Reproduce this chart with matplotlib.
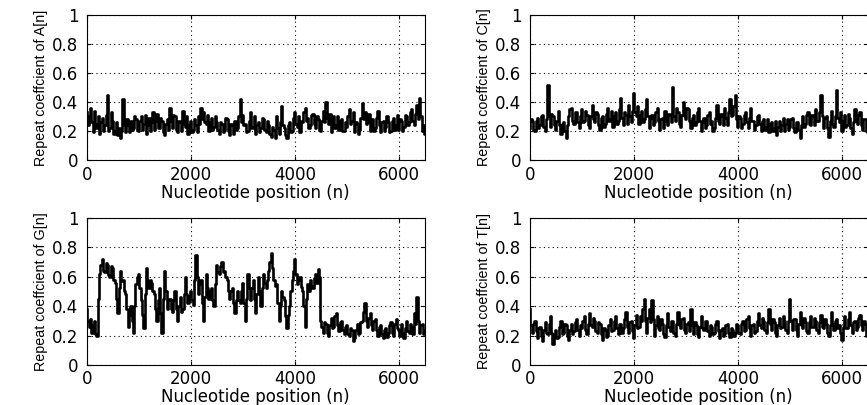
import numpy as np
import matplotlib
matplotlib.use("Agg")
import matplotlib.pyplot as plt
from matplotlib import font_manager

# repeat coefficients sampled every 25 nt (0..6500), one row = 500 nt
positions = np.arange(0, 6501, 25)

coef_a = [0.33, 0.24, 0.30, 0.36, 0.26, 0.19, 0.34, 0.25, 0.22, 0.30, 0.18, 0.26, 0.29, 0.20, 0.24, 0.31, 0.45, 0.20, 0.22, 0.33,
          0.27, 0.18, 0.20, 0.26, 0.17, 0.22, 0.15, 0.20, 0.42, 0.24, 0.19, 0.28, 0.24, 0.19, 0.27, 0.21, 0.22, 0.30, 0.28, 0.21,
          0.20, 0.27, 0.30, 0.21, 0.25, 0.31, 0.18, 0.24, 0.29, 0.20, 0.26, 0.33, 0.21, 0.27, 0.32, 0.22, 0.22, 0.29, 0.27, 0.19,
          0.17, 0.25, 0.28, 0.21, 0.36, 0.27, 0.22, 0.31, 0.30, 0.21, 0.19, 0.27, 0.26, 0.20, 0.34, 0.25, 0.23, 0.30, 0.18, 0.24,
          0.27, 0.19, 0.21, 0.28, 0.24, 0.19, 0.30, 0.25, 0.36, 0.28, 0.33, 0.26, 0.25, 0.31, 0.20, 0.26, 0.29, 0.21, 0.23, 0.30,
          0.26, 0.21, 0.18, 0.26, 0.25, 0.19, 0.21, 0.29, 0.28, 0.20, 0.17, 0.25, 0.24, 0.18, 0.27, 0.21, 0.22, 0.30, 0.42, 0.26,
          0.31, 0.24, 0.25, 0.19, 0.20, 0.27, 0.33, 0.22, 0.23, 0.30, 0.18, 0.24, 0.26, 0.19, 0.22, 0.29, 0.28, 0.21, 0.19, 0.27,
          0.24, 0.18, 0.16, 0.23, 0.21, 0.15, 0.30, 0.22, 0.18, 0.26, 0.37, 0.24, 0.22, 0.17, 0.15, 0.24, 0.26, 0.19, 0.20, 0.29,
          0.33, 0.25, 0.23, 0.30, 0.19, 0.27, 0.26, 0.33, 0.36, 0.27, 0.29, 0.22, 0.24, 0.31, 0.32, 0.25, 0.22, 0.30, 0.28, 0.21,
          0.20, 0.27, 0.34, 0.26, 0.40, 0.29, 0.25, 0.32, 0.19, 0.26, 0.30, 0.22, 0.24, 0.30, 0.21, 0.27, 0.28, 0.20, 0.20, 0.26,
          0.23, 0.30, 0.35, 0.25, 0.27, 0.33, 0.19, 0.26, 0.25, 0.18, 0.21, 0.29, 0.39, 0.28, 0.33, 0.25, 0.26, 0.32, 0.20, 0.27,
          0.28, 0.20, 0.22, 0.29, 0.34, 0.24, 0.19, 0.26, 0.27, 0.20, 0.23, 0.30, 0.26, 0.19, 0.20, 0.27, 0.29, 0.21, 0.24, 0.31,
          0.21, 0.28, 0.27, 0.20, 0.23, 0.31, 0.30, 0.24, 0.26, 0.33, 0.35, 0.27, 0.24, 0.32, 0.38, 0.28, 0.43, 0.30, 0.20, 0.24,
          0.18]

coef_c = [0.22, 0.28, 0.27, 0.21, 0.20, 0.27, 0.29, 0.22, 0.24, 0.30, 0.31, 0.23, 0.20, 0.28, 0.52, 0.30, 0.23, 0.32, 0.30, 0.24,
          0.21, 0.27, 0.34, 0.24, 0.18, 0.25, 0.26, 0.20, 0.15, 0.24, 0.30, 0.35, 0.36, 0.27, 0.25, 0.33, 0.33, 0.26, 0.22, 0.30,
          0.35, 0.26, 0.27, 0.34, 0.31, 0.24, 0.22, 0.30, 0.38, 0.28, 0.26, 0.33, 0.32, 0.24, 0.21, 0.29, 0.30, 0.23, 0.25, 0.32,
          0.36, 0.27, 0.28, 0.34, 0.23, 0.30, 0.33, 0.25, 0.27, 0.35, 0.43, 0.29, 0.24, 0.33, 0.31, 0.25, 0.38, 0.30, 0.26, 0.34,
          0.46, 0.33, 0.30, 0.37, 0.25, 0.31, 0.34, 0.26, 0.28, 0.35, 0.42, 0.30, 0.22, 0.29, 0.31, 0.24, 0.26, 0.33, 0.36, 0.27,
          0.21, 0.28, 0.29, 0.22, 0.34, 0.27, 0.24, 0.32, 0.31, 0.26, 0.50, 0.30, 0.27, 0.36, 0.33, 0.25, 0.23, 0.31, 0.40, 0.30,
          0.28, 0.36, 0.35, 0.27, 0.22, 0.29, 0.31, 0.24, 0.26, 0.33, 0.36, 0.27, 0.20, 0.26, 0.29, 0.22, 0.24, 0.31, 0.33, 0.25,
          0.27, 0.20, 0.22, 0.29, 0.38, 0.27, 0.25, 0.32, 0.30, 0.24, 0.36, 0.29, 0.24, 0.33, 0.42, 0.30, 0.31, 0.37, 0.45, 0.28,
          0.23, 0.30, 0.29, 0.22, 0.25, 0.31, 0.33, 0.26, 0.22, 0.29, 0.36, 0.27, 0.27, 0.21, 0.24, 0.30, 0.31, 0.25, 0.20, 0.27,
          0.28, 0.21, 0.23, 0.28, 0.19, 0.25, 0.26, 0.20, 0.22, 0.27, 0.17, 0.23, 0.27, 0.20, 0.24, 0.29, 0.20, 0.25, 0.28, 0.21,
          0.23, 0.28, 0.29, 0.22, 0.19, 0.26, 0.26, 0.21, 0.15, 0.24, 0.30, 0.23, 0.25, 0.31, 0.33, 0.25, 0.24, 0.31, 0.30, 0.24,
          0.35, 0.27, 0.27, 0.33, 0.45, 0.30, 0.22, 0.29, 0.30, 0.22, 0.16, 0.27, 0.34, 0.25, 0.23, 0.30, 0.48, 0.29, 0.26, 0.33,
          0.20, 0.27, 0.31, 0.23, 0.24, 0.32, 0.29, 0.22, 0.18, 0.26, 0.35, 0.27, 0.25, 0.31, 0.33, 0.24, 0.21, 0.28, 0.28, 0.20,
          0.19]

coef_g = [0.38, 0.30, 0.26, 0.31, 0.22, 0.27, 0.30, 0.21, 0.20, 0.45, 0.62, 0.68, 0.72, 0.64, 0.63, 0.69, 0.68, 0.61, 0.60, 0.67,
          0.66, 0.58, 0.56, 0.45, 0.35, 0.52, 0.64, 0.57, 0.58, 0.50, 0.48, 0.38, 0.26, 0.34, 0.40, 0.30, 0.22, 0.40, 0.55, 0.60,
          0.62, 0.52, 0.44, 0.34, 0.25, 0.48, 0.66, 0.58, 0.52, 0.58, 0.56, 0.50, 0.48, 0.38, 0.30, 0.44, 0.52, 0.35, 0.22, 0.45,
          0.64, 0.50, 0.38, 0.44, 0.45, 0.38, 0.36, 0.44, 0.50, 0.38, 0.30, 0.40, 0.46, 0.36, 0.38, 0.48, 0.60, 0.48, 0.42, 0.47,
          0.50, 0.44, 0.41, 0.58, 0.75, 0.60, 0.48, 0.55, 0.58, 0.42, 0.30, 0.46, 0.62, 0.52, 0.45, 0.50, 0.52, 0.44, 0.40, 0.55,
          0.68, 0.63, 0.62, 0.67, 0.70, 0.63, 0.64, 0.60, 0.58, 0.50, 0.45, 0.50, 0.52, 0.42, 0.35, 0.44, 0.50, 0.44, 0.42, 0.50,
          0.56, 0.42, 0.30, 0.45, 0.62, 0.52, 0.44, 0.52, 0.58, 0.45, 0.35, 0.48, 0.60, 0.50, 0.40, 0.52, 0.62, 0.56, 0.52, 0.58,
          0.64, 0.70, 0.76, 0.66, 0.58, 0.54, 0.55, 0.42, 0.30, 0.40, 0.50, 0.46, 0.44, 0.33, 0.25, 0.34, 0.40, 0.50, 0.58, 0.64,
          0.72, 0.62, 0.55, 0.58, 0.60, 0.53, 0.50, 0.40, 0.26, 0.45, 0.55, 0.50, 0.58, 0.54, 0.52, 0.59, 0.62, 0.56, 0.65, 0.60,
          0.30, 0.26, 0.22, 0.29, 0.28, 0.22, 0.20, 0.27, 0.32, 0.25, 0.26, 0.33, 0.35, 0.27, 0.23, 0.29, 0.30, 0.24, 0.21, 0.26,
          0.27, 0.21, 0.20, 0.25, 0.24, 0.16, 0.18, 0.24, 0.28, 0.21, 0.22, 0.29, 0.30, 0.36, 0.42, 0.30, 0.26, 0.32, 0.35, 0.27,
          0.24, 0.30, 0.31, 0.24, 0.20, 0.26, 0.27, 0.21, 0.18, 0.24, 0.25, 0.19, 0.22, 0.27, 0.29, 0.22, 0.20, 0.28, 0.31, 0.25,
          0.24, 0.20, 0.28, 0.22, 0.18, 0.25, 0.30, 0.23, 0.22, 0.28, 0.26, 0.21, 0.35, 0.28, 0.46, 0.30, 0.22, 0.27, 0.28, 0.21,
          0.24]

coef_t = [0.38, 0.27, 0.22, 0.28, 0.30, 0.23, 0.18, 0.25, 0.26, 0.20, 0.16, 0.24, 0.29, 0.22, 0.21, 0.28, 0.33, 0.22, 0.14, 0.21,
          0.24, 0.18, 0.19, 0.26, 0.30, 0.21, 0.22, 0.28, 0.27, 0.20, 0.17, 0.24, 0.28, 0.21, 0.23, 0.29, 0.31, 0.24, 0.20, 0.27,
          0.25, 0.30, 0.33, 0.24, 0.21, 0.28, 0.35, 0.27, 0.26, 0.32, 0.30, 0.23, 0.22, 0.29, 0.28, 0.21, 0.17, 0.25, 0.24, 0.19,
          0.20, 0.27, 0.31, 0.23, 0.24, 0.30, 0.33, 0.25, 0.21, 0.28, 0.28, 0.22, 0.25, 0.31, 0.36, 0.26, 0.22, 0.29, 0.30, 0.23,
          0.18, 0.27, 0.34, 0.25, 0.26, 0.33, 0.30, 0.38, 0.45, 0.30, 0.22, 0.32, 0.38, 0.29, 0.44, 0.31, 0.20, 0.27, 0.33, 0.25,
          0.24, 0.31, 0.28, 0.21, 0.19, 0.27, 0.35, 0.26, 0.23, 0.30, 0.30, 0.22, 0.20, 0.28, 0.36, 0.27, 0.25, 0.31, 0.32, 0.24,
          0.22, 0.28, 0.29, 0.23, 0.38, 0.27, 0.21, 0.29, 0.27, 0.21, 0.19, 0.26, 0.33, 0.25, 0.24, 0.30, 0.30, 0.23, 0.20, 0.27,
          0.26, 0.21, 0.22, 0.28, 0.30, 0.23, 0.18, 0.24, 0.25, 0.20, 0.21, 0.27, 0.28, 0.22, 0.19, 0.25, 0.24, 0.20, 0.22, 0.28,
          0.27, 0.22, 0.21, 0.28, 0.30, 0.23, 0.24, 0.31, 0.33, 0.25, 0.20, 0.27, 0.28, 0.22, 0.23, 0.30, 0.35, 0.27, 0.25, 0.32,
          0.30, 0.24, 0.22, 0.29, 0.38, 0.28, 0.24, 0.31, 0.29, 0.22, 0.20, 0.27, 0.32, 0.25, 0.26, 0.33, 0.30, 0.24, 0.22, 0.30,
          0.45, 0.30, 0.24, 0.31, 0.31, 0.24, 0.20, 0.28, 0.36, 0.27, 0.25, 0.32, 0.29, 0.23, 0.22, 0.29, 0.33, 0.26, 0.26, 0.32,
          0.30, 0.24, 0.22, 0.29, 0.34, 0.26, 0.25, 0.31, 0.28, 0.22, 0.20, 0.27, 0.36, 0.28, 0.24, 0.30, 0.31, 0.25, 0.27, 0.22,
          0.17, 0.26, 0.33, 0.25, 0.25, 0.31, 0.36, 0.27, 0.22, 0.29, 0.30, 0.24, 0.26, 0.32, 0.34, 0.27, 0.24, 0.30, 0.28, 0.20,
          0.22]

bases = ["A", "C", "G", "T"]
series = [coef_a, coef_c, coef_g, coef_t]
x_ticks = [0, 2000, 4000, 6000]
y_ticks = [0, 0.2, 0.4, 0.6, 0.8, 1]
y_tick_labels = ["0", "0.2", "0.4", "0.6", "0.8", "1"]

# narrow font for the y labels if there is one, else plain Liberation Sans
try:
    font_manager.findfont("Liberation Sans Narrow", fallback_to_default=False)
    ylab_font, ylab_size = "Liberation Sans Narrow", 12.5
except ValueError:
    ylab_font, ylab_size = "Liberation Sans", 10.3

fig = plt.figure(figsize=(8.67, 4.05), dpi=100)
# [left, bottom, width, height] in figure fractions
boxes = [[0.100, 0.605, 0.390, 0.358],
         [0.611, 0.605, 0.390, 0.358],
         [0.100, 0.099, 0.390, 0.363],
         [0.611, 0.099, 0.390, 0.363]]

for base, values, box in zip(bases, series, boxes):
    ax = fig.add_axes(box)
    ax.plot(positions, values, color="black", linewidth=1.9,
            drawstyle="steps-mid")
    ax.set_xlim(0, 6500)
    ax.set_ylim(0, 1)
    ax.set_xticks(x_ticks)
    ax.set_yticks(y_ticks)
    ax.set_yticklabels(y_tick_labels)
    ax.tick_params(direction="in", length=3, labelsize=12,
                   top=True, right=True)
    ax.tick_params(axis="y", pad=6)
    ax.tick_params(axis="x", pad=4)
    ax.grid(True, color="black", linestyle=(0, (1, 3)), linewidth=0.8)
    ax.set_xlabel("Nucleotide position (n)", fontsize=12, labelpad=0)
    ax.set_ylabel(f"Repeat coeffcient of {base}[n]",
                  family=[ylab_font, "DejaVu Sans"],
                  fontsize=ylab_size, labelpad=3)
    for spine in ax.spines.values():
        spine.set_linewidth(0.8)

fig.savefig("out.png", dpi=100)
